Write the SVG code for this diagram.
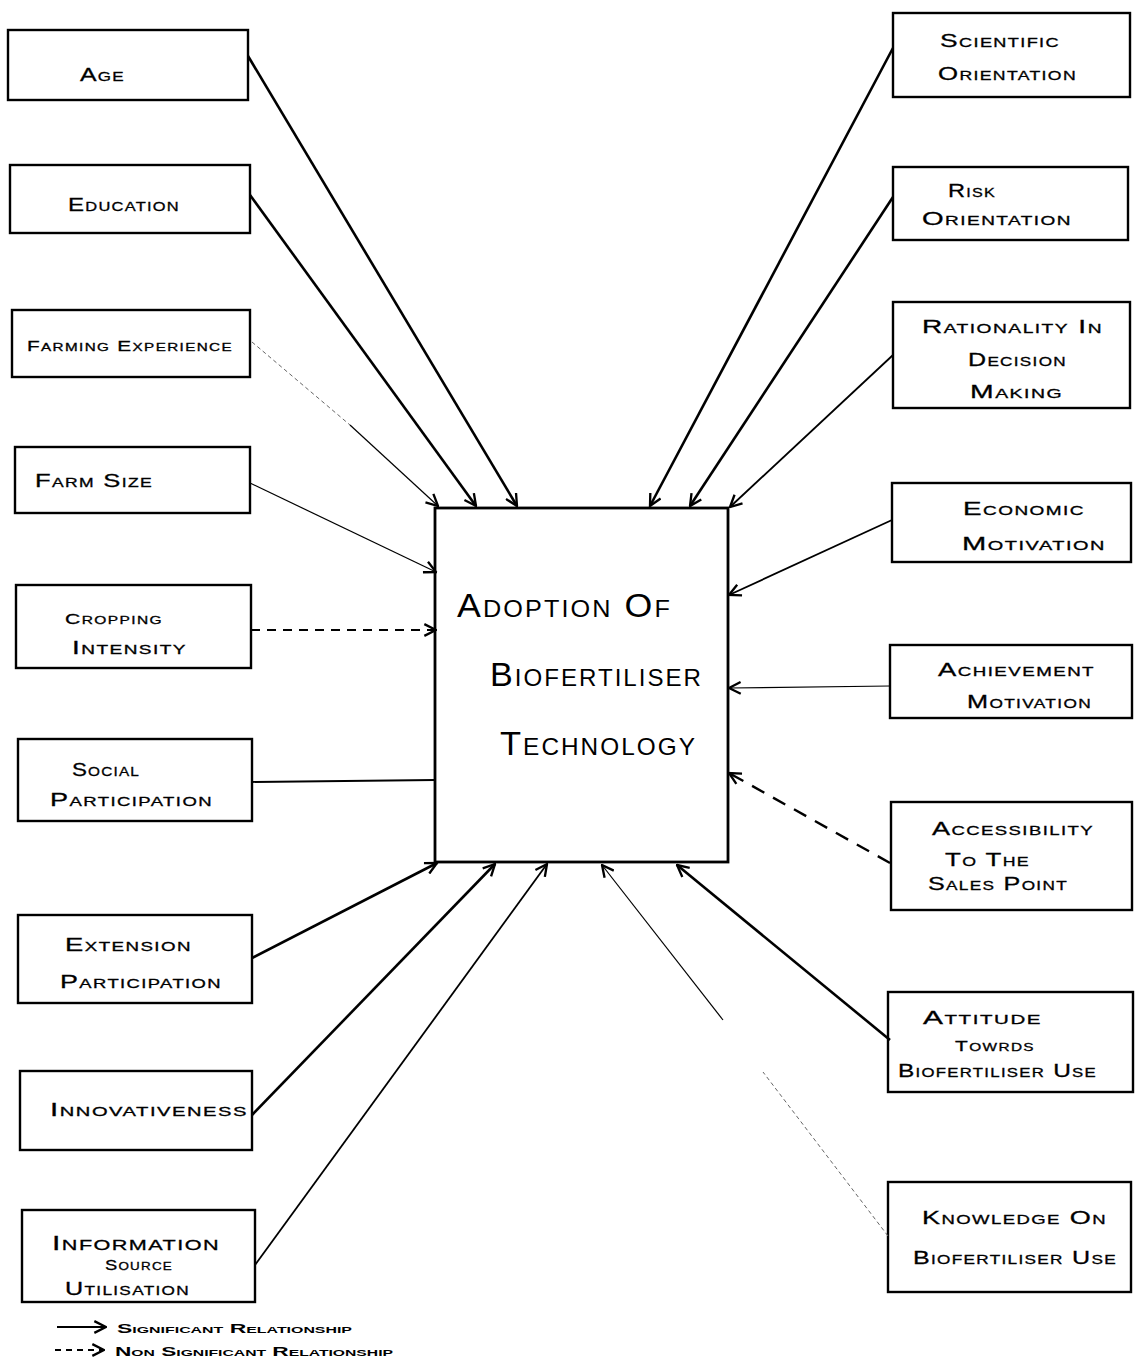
<svg xmlns="http://www.w3.org/2000/svg" width="1135" height="1363" viewBox="0 0 1135 1363">
<style>
  .box { fill: #fff; stroke: #000; stroke-width: 2.4; }
  .lbl { font-family: "Liberation Sans", Arial, sans-serif; font-size: 19px; font-variant: small-caps; fill: #000; letter-spacing: 1px; stroke: #000; stroke-width: 0.3; }
  .sm { font-size: 15px; }
  .big { font-family: "Liberation Sans", Arial, sans-serif; font-size: 34px; font-variant: small-caps; fill: #000; letter-spacing: 2px; }
  .leg { font-family: "Liberation Sans", Arial, sans-serif; font-size: 13px; font-weight: bold; font-variant: small-caps; fill: #000; }
  .thick { stroke: #000; stroke-width: 2.6; fill: none; }
  .mid { stroke: #000; stroke-width: 1.8; fill: none; }
  .thin { stroke: #000; stroke-width: 1.2; fill: none; }
  .faint { stroke: #666; stroke-width: 1; fill: none; stroke-dasharray: 4 3; }
  .dash { stroke: #000; stroke-width: 1.8; fill: none; stroke-dasharray: 9 7; }
  .dashk { stroke: #000; stroke-width: 2.4; fill: none; stroke-dasharray: 14 10; }
</style>
<defs>
  <marker id="ah" viewBox="0 0 12 12" refX="11" refY="6" markerWidth="14" markerHeight="14" markerUnits="userSpaceOnUse" orient="auto">
    <path d="M1,1 L11,6 L1,11" fill="none" stroke="#000" stroke-width="2"/>
  </marker>
</defs>

<!-- central node -->
<g id="adoption">
  <rect class="box" x="435" y="508" width="293" height="354" style="stroke-width:2.8"/>
  <text class="big" x="457" y="617" textLength="215" lengthAdjust="spacingAndGlyphs">Adoption Of</text>
  <text class="big" x="490" y="686" textLength="213" lengthAdjust="spacingAndGlyphs">Biofertiliser</text>
  <text class="big" x="500" y="755" textLength="197" lengthAdjust="spacingAndGlyphs">Technology</text>
</g>

<!-- left nodes -->
<g id="age">
  <rect class="box" x="8" y="30" width="240" height="70"/>
  <text class="lbl" x="80" y="81" textLength="45" lengthAdjust="spacingAndGlyphs">Age</text>
</g>
<g id="education">
  <rect class="box" x="10" y="165" width="240" height="68"/>
  <text class="lbl" x="68" y="211" textLength="112" lengthAdjust="spacingAndGlyphs">Education</text>
</g>
<g id="farming-experience">
  <rect class="box" x="12" y="310" width="238" height="67"/>
  <text class="lbl sm" x="27" y="351" textLength="206" lengthAdjust="spacingAndGlyphs">Farming Experience</text>
</g>
<g id="farm-size">
  <rect class="box" x="15" y="447" width="235" height="66"/>
  <text class="lbl" x="35" y="487" textLength="118" lengthAdjust="spacingAndGlyphs">Farm Size</text>
</g>
<g id="cropping-intensity">
  <rect class="box" x="16" y="585" width="235" height="83"/>
  <text class="lbl sm" x="65" y="624" textLength="98" lengthAdjust="spacingAndGlyphs">Cropping</text>
  <text class="lbl" x="72" y="654" textLength="115" lengthAdjust="spacingAndGlyphs">Intensity</text>
</g>
<g id="social-participation">
  <rect class="box" x="18" y="739" width="234" height="82"/>
  <text class="lbl" x="72" y="776" textLength="68" lengthAdjust="spacingAndGlyphs">Social</text>
  <text class="lbl" x="50" y="806" textLength="163" lengthAdjust="spacingAndGlyphs">Participation</text>
</g>
<g id="extension-participation">
  <rect class="box" x="18" y="915" width="234" height="88"/>
  <text class="lbl" x="65" y="951" textLength="127" lengthAdjust="spacingAndGlyphs">Extension</text>
  <text class="lbl" x="60" y="988" textLength="162" lengthAdjust="spacingAndGlyphs">Participation</text>
</g>
<g id="innovativeness">
  <rect class="box" x="20" y="1071" width="232" height="79"/>
  <text class="lbl" x="50" y="1116" textLength="198" lengthAdjust="spacingAndGlyphs">Innovativeness</text>
</g>
<g id="information-source-utilisation">
  <rect class="box" x="22" y="1210" width="233" height="92"/>
  <text class="lbl" x="52" y="1250" textLength="168" lengthAdjust="spacingAndGlyphs" style="font-size:21px">Information</text>
  <text class="lbl sm" x="105" y="1270" textLength="68" lengthAdjust="spacingAndGlyphs">Source</text>
  <text class="lbl" x="65" y="1295" textLength="125" lengthAdjust="spacingAndGlyphs">Utilisation</text>
</g>

<!-- right nodes -->
<g id="scientific-orientation">
  <rect class="box" x="893" y="13" width="237" height="84"/>
  <text class="lbl" x="940" y="47" textLength="120" lengthAdjust="spacingAndGlyphs">Scientific</text>
  <text class="lbl" x="938" y="80" textLength="139" lengthAdjust="spacingAndGlyphs">Orientation</text>
</g>
<g id="risk-orientation">
  <rect class="box" x="893" y="167" width="235" height="73"/>
  <text class="lbl" x="948" y="197" textLength="48" lengthAdjust="spacingAndGlyphs">Risk</text>
  <text class="lbl" x="922" y="225" textLength="150" lengthAdjust="spacingAndGlyphs">Orientation</text>
</g>
<g id="rationality">
  <rect class="box" x="893" y="302" width="237" height="106"/>
  <text class="lbl" x="922" y="333" textLength="181" lengthAdjust="spacingAndGlyphs">Rationality In</text>
  <text class="lbl" x="968" y="366" textLength="99" lengthAdjust="spacingAndGlyphs">Decision</text>
  <text class="lbl" x="970" y="398" textLength="93" lengthAdjust="spacingAndGlyphs">Making</text>
</g>
<g id="economic-motivation">
  <rect class="box" x="892" y="483" width="239" height="79"/>
  <text class="lbl" x="963" y="515" textLength="122" lengthAdjust="spacingAndGlyphs">Economic</text>
  <text class="lbl" x="962" y="550" textLength="144" lengthAdjust="spacingAndGlyphs">Motivation</text>
</g>
<g id="achievement-motivation">
  <rect class="box" x="890" y="645" width="242" height="73"/>
  <text class="lbl" x="938" y="676" textLength="157" lengthAdjust="spacingAndGlyphs">Achievement</text>
  <text class="lbl" x="967" y="708" textLength="125" lengthAdjust="spacingAndGlyphs">Motivation</text>
</g>
<g id="accessibility">
  <rect class="box" x="891" y="802" width="241" height="108"/>
  <text class="lbl" x="932" y="835" textLength="162" lengthAdjust="spacingAndGlyphs">Accessibility</text>
  <text class="lbl" x="945" y="866" textLength="85" lengthAdjust="spacingAndGlyphs">To The</text>
  <text class="lbl" x="928" y="890" textLength="140" lengthAdjust="spacingAndGlyphs">Sales Point</text>
</g>
<g id="attitude">
  <rect class="box" x="888" y="992" width="245" height="100"/>
  <text class="lbl" x="923" y="1024" textLength="119" lengthAdjust="spacingAndGlyphs">Attitude</text>
  <text class="lbl sm" x="955" y="1051" textLength="80" lengthAdjust="spacingAndGlyphs">Towrds</text>
  <text class="lbl" x="898" y="1077" textLength="199" lengthAdjust="spacingAndGlyphs">Biofertiliser Use</text>
</g>
<g id="knowledge">
  <rect class="box" x="888" y="1182" width="243" height="110"/>
  <text class="lbl" x="922" y="1224" textLength="185" lengthAdjust="spacingAndGlyphs">Knowledge On</text>
  <text class="lbl" x="913" y="1264" textLength="204" lengthAdjust="spacingAndGlyphs">Biofertiliser Use</text>
</g>

<!-- connectors -->
<g id="connectors">
  <line class="thick" x1="248" y1="56" x2="517" y2="506" marker-end="url(#ah)"/>
  <line class="thick" x1="250" y1="195" x2="476" y2="506" marker-end="url(#ah)"/>
  <line class="faint" x1="252" y1="342" x2="350" y2="425"/>
  <line class="thin" x1="350" y1="425" x2="438" y2="506" marker-end="url(#ah)"/>
  <line class="thin" x1="250" y1="483" x2="436" y2="572" marker-end="url(#ah)"/>
  <line class="dash" x1="251" y1="630" x2="436" y2="630" marker-end="url(#ah)"/>
  <line class="mid" x1="252" y1="782" x2="435" y2="780"/>
  <line class="thick" x1="252" y1="958" x2="437" y2="863" marker-end="url(#ah)"/>
  <line class="thick" x1="252" y1="1115" x2="495" y2="864" marker-end="url(#ah)"/>
  <line class="mid" x1="255" y1="1265" x2="547" y2="864" marker-end="url(#ah)"/>

  <line class="thick" x1="893" y1="48" x2="650" y2="506" marker-end="url(#ah)"/>
  <line class="thick" x1="893" y1="197" x2="690" y2="506" marker-end="url(#ah)"/>
  <line class="mid" x1="893" y1="355" x2="730" y2="507" marker-end="url(#ah)"/>
  <line class="mid" x1="892" y1="520" x2="729" y2="595" marker-end="url(#ah)"/>
  <line class="thin" x1="890" y1="686" x2="729" y2="688" marker-end="url(#ah)"/>
  <line class="dashk" x1="890" y1="863" x2="729" y2="773" marker-end="url(#ah)"/>
  <line class="thick" x1="890" y1="1040" x2="677" y2="865" marker-end="url(#ah)"/>
  <line class="faint" x1="888" y1="1236" x2="763" y2="1072"/>
  <line class="thin" x1="723" y1="1020" x2="602" y2="865" marker-end="url(#ah)"/>
</g>

<!-- legend -->
<g id="legend">
  <line class="mid" x1="57" y1="1327" x2="106" y2="1327" marker-end="url(#ah)"/>
  <text class="leg" x="117" y="1333" textLength="235" lengthAdjust="spacingAndGlyphs">Significant Relationship</text>
  <line class="mid" x1="55" y1="1350" x2="104" y2="1350" style="stroke-dasharray:6 5" marker-end="url(#ah)"/>
  <text class="leg" x="115" y="1356" textLength="278" lengthAdjust="spacingAndGlyphs">Non Significant Relationship</text>
</g>
</svg>
